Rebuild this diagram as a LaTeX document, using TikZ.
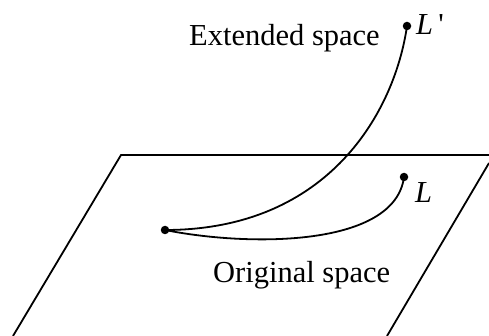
\documentclass[tikz,border=0pt]{standalone}
\usepackage{fontspec}
\setmainfont{Liberation Serif}
\begin{document}
\begin{tikzpicture}[x=1pt,y=-1pt,
  edge/.style={line width=1.8pt},
  dot/.style={circle,fill=black,inner sep=0pt,minimum size=8.5pt},
  lbl/.style={inner sep=0pt,anchor=base west,font=\fontsize{30.5}{36}\selectfont}]
\useasboundingbox (0,0) rectangle (489,336);
% plane
\coordinate (p1) at (13,336);
\coordinate (p2) at (121,155);
\coordinate (p3) at (489,155);
\coordinate (p4) at (489,163);
\coordinate (p5) at (387,336);
\draw[edge] (p1) -- (p2) -- (p3);
\draw[edge] (p4) -- (p5);
% points
\node[dot] (s) at (165,230) {};
\node[dot] (l) at (404,177) {};
\node[dot] (lp) at (407,26) {};
% curves
\draw[edge] (s.center) .. controls (330,230) and (395,110) .. (lp.center);
\draw[edge] (s.center) .. controls (250,247) and (395,247) .. (l.center);
% labels
\node[lbl] (ext) at (189,46) {Extended space};
\node[lbl] (orig) at (213,282) {Original space};
\node[lbl] (ll) at (415,203) {\textit{L}};
\node[lbl] (llp) at (416,35) {\textit{L}\,\textquotesingle};
\end{tikzpicture}
\end{document}
